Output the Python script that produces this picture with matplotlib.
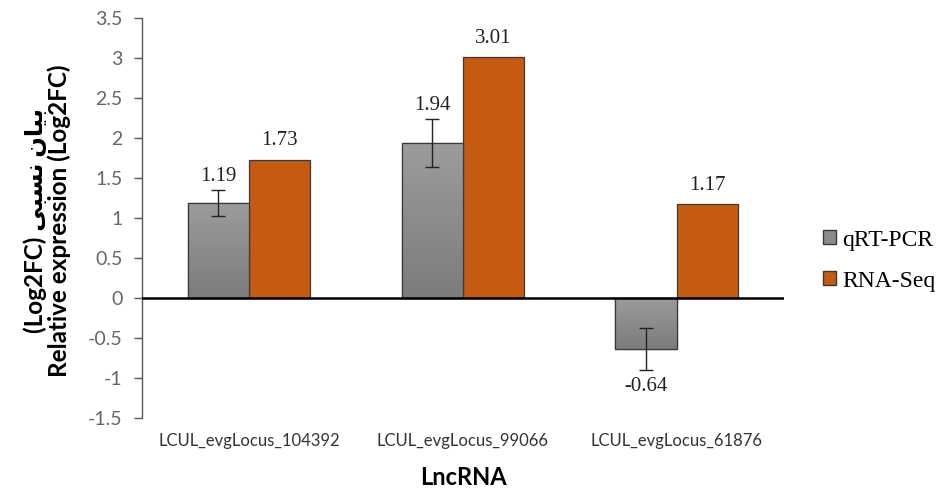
import numpy as np
import matplotlib
matplotlib.use('Agg')
from matplotlib import pyplot as plt
from matplotlib.colors import LinearSegmentedColormap
from matplotlib.patches import Patch

# data
genes = ['LCUL_evgLocus_104392', 'LCUL_evgLocus_99066', 'LCUL_evgLocus_61876']
qrt = [1.19, 1.94, -0.64]
qrt_err = [0.16, 0.30, 0.26]
rnaseq = [1.73, 3.01, 1.17]
yticks = [-1.5, -1, -0.5, 0, 0.5, 1, 1.5, 2, 2.5, 3, 3.5]
ytick_labels = ['-1.5', '-1', '-0.5', '0', '0.5', '1', '1.5', '2', '2.5', '3', '3.5']

# "بیان نسبی" in shaped presentation forms, visual order (no bidi in matplotlib)
fa_label = '\uFBFD\uFE92\uFEB4\uFEE7 \uFEE5\uFE8E\uFBFF\uFE91'

gray = '#8c8c8c'
orange = '#c55a11'
edge = '#3a3a3a'

fig = plt.figure(figsize=(9.41, 4.9), dpi=100)
ax = fig.add_axes([0.151, 0.147, 0.682, 0.816])

x = np.arange(len(genes))
w = 0.287
b1 = ax.bar(x - w / 2, qrt, w, color=gray, edgecolor=edge, linewidth=0.9, zorder=2)
b2 = ax.bar(x + w / 2, rnaseq, w, color=orange, edgecolor=edge, linewidth=0.9, zorder=2)

# gradient fill on the gray bars
cmap = LinearSegmentedColormap.from_list('g', ['#7c7c7c', '#9c9c9c'])
grad = np.linspace(0, 1, 100).reshape(-1, 1)
for bar in b1:
    x0, y0 = bar.get_x(), bar.get_y()
    x1, y1 = x0 + bar.get_width(), y0 + bar.get_height()
    im = ax.imshow(grad, extent=[x0, x1, min(y0, y1), max(y0, y1)], origin='lower',
                   cmap=cmap, aspect='auto', zorder=2.1)
    im.set_clip_path(bar)
for bar in b1:
    ax.add_patch(plt.Rectangle((bar.get_x(), bar.get_y()), bar.get_width(), bar.get_height(),
                               fill=False, edgecolor=edge, linewidth=0.9, zorder=2.2))

ax.errorbar(x - w / 2, qrt, yerr=qrt_err, fmt='none', ecolor='#222222', elinewidth=1,
            capsize=5, capthick=1, zorder=3)

ax.axhline(0, color='black', linewidth=1.8, zorder=4)

# value labels
vfont = dict(family='Liberation Serif', fontsize=15, color='#222222')
for i in range(len(genes)):
    if qrt[i] >= 0:
        ax.annotate(f'{qrt[i]:.2f}', (x[i] - w / 2, qrt[i] + qrt_err[i]), xytext=(0, 3),
                    textcoords='offset points', ha='center', va='bottom', **vfont)
    else:
        ax.annotate(f'{qrt[i]:.2f}', (x[i] - w / 2, qrt[i] - qrt_err[i]), xytext=(0, -5),
                    textcoords='offset points', ha='center', va='top', **vfont)
    ax.annotate(f'{rnaseq[i]:.2f}', (x[i] + w / 2, rnaseq[i]), xytext=(0, 7),
                textcoords='offset points', ha='center', va='bottom', **vfont)

ax.set_xlim(-0.5, 2.5)
ax.set_ylim(-1.5, 3.5)
ax.set_yticks(yticks)
ax.set_yticklabels(ytick_labels, family='Lato', fontsize=14, color='#666666')
ax.set_xticks(x)
ax.set_xticklabels(genes, family='Lato', fontsize=12, color='#333333')
ax.tick_params(axis='x', length=0, pad=11)
ax.tick_params(axis='y', length=6, width=1, color='#595959', direction='out', pad=8)

for s in ['top', 'right', 'bottom']:
    ax.spines[s].set_visible(False)
ax.spines['left'].set_color('#595959')
ax.spines['left'].set_linewidth(1)

ax.set_xlabel('LncRNA', family='Lato', fontweight='bold', fontsize=17, labelpad=12)

fig.text(0.050, 0.55, '(Log2FC) ' + fa_label + '\nRelative expression (Log2FC)',
         rotation=90, ha='center', va='center', multialignment='center',
         family=['Lato', 'DejaVu Sans'], fontweight='bold', fontsize=17.5, linespacing=1.05)

handles = [Patch(facecolor=gray, edgecolor=edge), Patch(facecolor=orange, edgecolor=edge)]
fig.legend(handles, ['qRT-PCR', 'RNA-Seq'], loc='center left', bbox_to_anchor=(0.875, 0.468),
           frameon=False, prop={'family': 'Liberation Serif', 'size': 17}, borderpad=0,
           borderaxespad=0, handlelength=0.55, handleheight=0.55, handletextpad=0.25,
           labelspacing=0.85)

fig.savefig('out.png', dpi=100)
